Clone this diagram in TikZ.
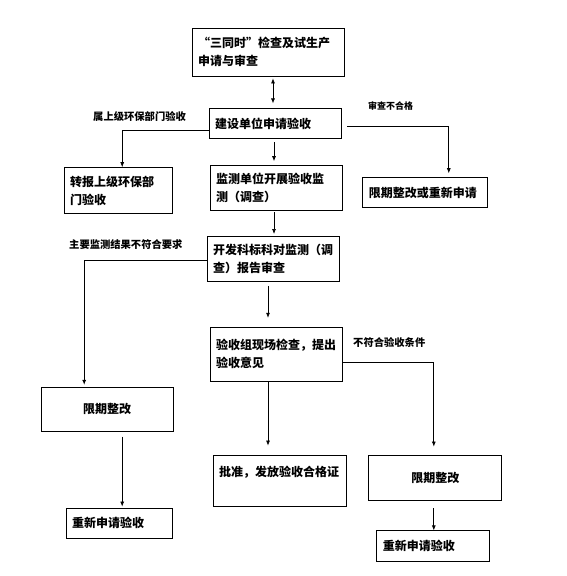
\documentclass[tikz,border=0pt]{standalone}
\usepackage{fontspec}
\newfontfamily\cjk{Noto Sans CJK SC}
\usetikzlibrary{
	positioning,
	arrows.meta
}
\newcommand{\fullq}[1]{{\addfontfeature{CharacterWidth=Full}#1}}
\tikzset{
	box/.style={draw, line width=0.8pt, inner xsep=6pt, inner ysep=2pt, align=left,
		font=\cjk\bfseries\fontsize{12}{18}\selectfont},
	midbox/.style={box, align=center},
	lbl/.style={inner sep=0pt, anchor=west, font=\cjk\bfseries\fontsize{10.3}{12}\selectfont},
	smalllbl/.style={lbl, font=\cjk\bfseries\fontsize{9}{11}\selectfont},
	arr/.style={-{Latex[length=5pt,width=4pt]}, line width=0.7pt}
}

\begin{document}
\begin{tikzpicture}[x=1pt,y=-1pt]
				
				\useasboundingbox (0,0) rectangle (566,576);
				
				\node[
				box,
				text width=140pt,
				minimum height=48pt
				]
				(Apply) at (268,52)
				{\fullq{“}三同时\fullq{”}检查及试生产\\申请与审查};
				
				\node[
				box,
				text width=120pt,
				minimum height=30pt,
				below=32pt of Apply,
				xshift=7pt
				]
				(Request)
				{建设单位申请验收};
				
				\node[
				box,
				text width=120pt,
				minimum height=45pt,
				below=26pt of Request,
				xshift=1pt
				]
				(Monitor)
				{监测单位开展验收监\\测（调查）};
				
				\node[
				box,
				text width=96pt,
				minimum height=46pt,
				left=37pt of Monitor,
				yshift=-2.5pt
				]
				(Transfer)
				{转报上级环保部\\门验收};
				
				\node[
				box,
				text width=113pt,
				minimum height=30pt,
				right=20pt of Monitor,
				yshift=-4.5pt
				]
				(Redo)
				{限期整改或重新申请};
				
				\node[
				box,
				text width=120pt,
				minimum height=45pt,
				below=25pt of Monitor,
				xshift=-3pt
				]
				(Review)
				{开发科标科对监测（调\\查）报告审查};
				
				\node[
				box,
				text width=120pt,
				minimum height=54pt,
				below=45pt of Review,
				xshift=3pt
				]
				(Inspect)
				{验收组现场检查，提出\\验收意见};
				
				\node[
				box,
				text width=121pt,
				minimum height=51pt,
				below=73pt of Inspect,
				xshift=3.5pt
				]
				(Approve)
				{批准，发放验收合格证\\~};
				
				\node[
				midbox,
				text width=121pt,
				minimum height=45pt,
				right=22pt of Approve,
				yshift=3pt
				]
				(FixR)
				{限期整改};
				
				\node[
				box,
				text width=101pt,
				minimum height=31pt,
				below=30pt of FixR,
				xshift=-2pt
				]
				(AgainR)
				{重新申请验收};
				
				\node[
				midbox,
				text width=120pt,
				minimum height=44pt,
				below left=105pt and 33pt of Review
				]
				(FixL)
				{限期整改};
				
				\node[
				box,
				text width=94pt,
				minimum height=30pt,
				below=76pt of FixL,
				xshift=12pt
				]
				(AgainL)
				{重新申请验收};
				
				\node[lbl] (UpperLbl) at (93,117) {属上级环保部门验收};
				\node[smalllbl] (FailLbl) at (368,106) {审查不合格};
				\node[lbl] (MainLbl) at (69,245) {主要监测结果不符合要求};
				\node[lbl] (CondLbl) at (353,343) {不符合验收条件};
				
				\draw[{Latex[length=5pt,width=4pt]}-{Latex[length=5pt,width=4pt]}, line width=0.7pt, shorten <=2pt, shorten >=5pt] ([xshift=5pt]Apply.south) -- ([xshift=-2pt]Request.north);
				\draw[arr] ([yshift=-7pt]Request.west) -| ([xshift=4pt]Transfer.north);
				\draw[arr, shorten <=3pt, shorten >=4pt] ([xshift=-1pt]Request.south) -- ([xshift=-2pt]Monitor.north);
				\draw[arr, shorten <=6pt, shorten >=4pt] ([yshift=-3pt]Request.east) -| ([xshift=23.5pt]Redo.north);
				\draw[arr, shorten <=1pt, shorten >=2pt] ([xshift=-2pt]Monitor.south) -- ([xshift=1pt]Review.north);
				\draw[arr, shorten >=2pt] ([yshift=-1.5pt]Review.west) -| ([xshift=-23pt]FixL.north);
				\draw[arr, shorten <=4pt, shorten >=9pt] ([xshift=-5pt]Review.south) -- ([xshift=-8pt]Inspect.north);
				\draw[arr, shorten >=8pt] ([yshift=-8pt]Inspect.east) -| ([xshift=-1.5pt]FixR.north);
				\draw[arr, shorten >=9pt] ([xshift=-8pt]Inspect.south) -- ([xshift=-11.5pt]Approve.north);
				\draw[arr, shorten <=5pt, shorten >=1pt] ([xshift=15pt]FixL.south) -- ([xshift=3pt]AgainL.north);
				\draw[arr, shorten <=8pt] ([xshift=-1.5pt]FixR.south) -- ([xshift=0.5pt]AgainR.north);
				
\end{tikzpicture}
\end{document}
